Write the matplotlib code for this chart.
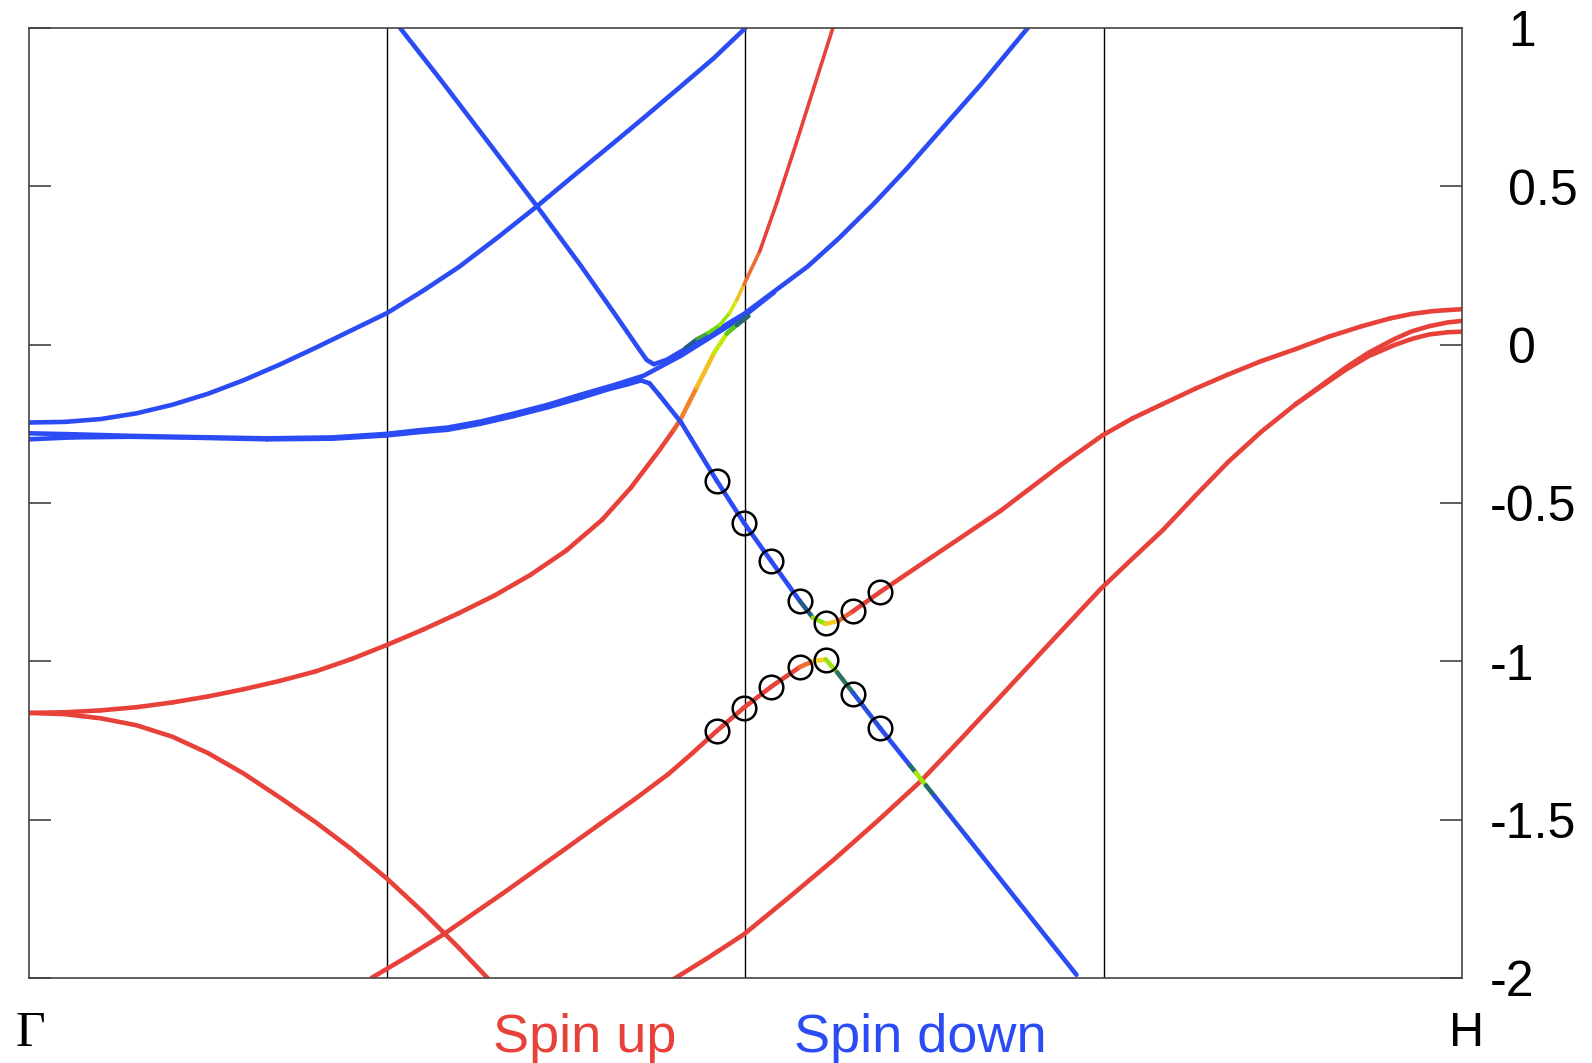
import numpy as np
import matplotlib.pyplot as plt
from matplotlib.collections import LineCollection
from matplotlib.colors import LinearSegmentedColormap

plt.rcParams['font.family'] = ['Liberation Sans', 'DejaVu Sans']

# k along the path (Gamma = 0, H = 1) and energy
# w = spin weight of the band: 0 = spin down (blue), 1 = spin up (red)

# spin down bands
b1_k = [0.0, 0.025, 0.05, 0.075, 0.1, 0.125, 0.15, 0.175, 0.2, 0.225, 0.25, 0.275, 0.3, 0.327,
        0.354, 0.38, 0.408, 0.43, 0.455, 0.478, 0.5]
b1_e = [-0.246, -0.244, -0.235, -0.217, -0.19, -0.155, -0.112, -0.063, -0.01, 0.045, 0.1, 0.17, 0.245,
        0.338, 0.435, 0.533, 0.637, 0.72, 0.816, 0.905, 1.0]

b2_k = [0.259, 0.287, 0.315, 0.3545, 0.385, 0.408, 0.426, 0.431, 0.436, 0.445, 0.462, 0.478, 0.499,
        0.52, 0.5435, 0.565, 0.59, 0.613, 0.6365, 0.665, 0.697]
b2_e = [1.0, 0.838, 0.672, 0.437, 0.25, 0.102, -0.016, -0.048, -0.062, -0.048, -0.003, 0.04, 0.097,
        0.168, 0.247, 0.335, 0.447, 0.558, 0.679, 0.825, 1.0]

f1_k = [0.0, 0.03, 0.07, 0.116, 0.166, 0.212, 0.249, 0.273, 0.292, 0.315, 0.338, 0.362, 0.385, 0.408,
        0.429, 0.455, 0.478, 0.499, 0.52]
f1_e = [-0.28, -0.283, -0.288, -0.292, -0.296, -0.293, -0.282, -0.27, -0.262, -0.243, -0.218, -0.19,
        -0.158, -0.128, -0.098, -0.035, 0.03, 0.09, 0.165]

# mixed bands
f2_k = [0.0, 0.03, 0.07, 0.116, 0.166, 0.212, 0.249, 0.273, 0.292, 0.315, 0.338, 0.362, 0.385, 0.405,
        0.418, 0.427, 0.433, 0.44, 0.455, 0.48, 0.499, 0.518, 0.538, 0.547, 0.556, 0.565, 0.575, 0.594,
        0.631, 0.678, 0.721, 0.749, 0.77, 0.791, 0.814, 0.837, 0.86, 0.884, 0.907, 0.93, 0.95, 0.965,
        0.98, 1.0]
f2_e = [-0.299, -0.293, -0.291, -0.294, -0.299, -0.297, -0.287, -0.276, -0.269, -0.25, -0.226, -0.198,
        -0.168, -0.14, -0.125, -0.113, -0.122, -0.16, -0.245, -0.43, -0.563, -0.684, -0.81, -0.862,
        -0.882, -0.872, -0.842, -0.781, -0.668, -0.525, -0.377, -0.287, -0.233, -0.188, -0.139, -0.094,
        -0.052, -0.014, 0.025, 0.058, 0.083, 0.097, 0.106, 0.112]
f2_w = [0] * 23 + [0.35, 0.62, 0.88] + [1] * 18

low_k = [0.239, 0.264, 0.289, 0.33, 0.371, 0.399, 0.422, 0.446, 0.463, 0.48, 0.499, 0.518, 0.538, 0.547,
         0.556, 0.564, 0.575, 0.594, 0.615, 0.619, 0.622, 0.626, 0.632, 0.655, 0.69, 0.731]
low_e = [-2.0, -1.933, -1.863, -1.735, -1.603, -1.512, -1.438, -1.357, -1.29, -1.22, -1.146, -1.08,
         -1.018, -1.0, -0.994, -1.035, -1.099, -1.211, -1.33, -1.352, -1.37, -1.392, -1.426, -1.557,
         -1.757, -1.99]
low_w = [1] * 13 + [0.85, 0.62, 0.38, 0.1, 0, 0, 0.45, 0.6, 0.4, 0.05, 0, 0, 0]

r1_k = [0.0, 0.025, 0.05, 0.075, 0.1, 0.125, 0.15, 0.175, 0.2, 0.225, 0.25, 0.275, 0.3, 0.325, 0.35,
        0.375, 0.4, 0.42, 0.44, 0.45, 0.4545, 0.466, 0.478, 0.487, 0.494, 0.502]
r1_e = [-1.163, -1.161, -1.155, -1.145, -1.13, -1.111, -1.088, -1.062, -1.032, -0.993, -0.948, -0.9,
        -0.848, -0.792, -0.727, -0.65, -0.553, -0.452, -0.333, -0.269, -0.238, -0.135, -0.027, 0.035,
        0.062, 0.09]
r1_w = [1] * 19 + [0.97, 0.93, 0.85, 0.7, 0.45, 0.3, 0.15]

ur_k = [0.458, 0.466, 0.474, 0.482, 0.489, 0.494, 0.499, 0.51, 0.522, 0.535, 0.548, 0.561]
ur_e = [-0.01, 0.018, 0.037, 0.062, 0.1, 0.142, 0.19, 0.295, 0.45, 0.63, 0.815, 1.0]
ur_w = [0.1, 0.25, 0.38, 0.45, 0.55, 0.7, 0.85, 1, 1, 1, 1, 1]

# spin up bands
r3_k = [0.449, 0.474, 0.499, 0.53, 0.562, 0.592, 0.622, 0.65, 0.678, 0.713, 0.748, 0.77, 0.791, 0.814,
        0.837, 0.86, 0.884]
r3_e = [-2.006, -1.936, -1.862, -1.747, -1.625, -1.505, -1.38, -1.247, -1.111, -0.94, -0.771, -0.676,
        -0.587, -0.477, -0.37, -0.275, -0.188]
r3_end_k = [0.884, 0.9, 0.919, 0.935, 0.953, 0.965, 0.977, 0.99, 1.0]
r3a_end_e = [-0.188, -0.135, -0.072, -0.025, 0.018, 0.042, 0.058, 0.07, 0.075]
r3b_end_e = [-0.188, -0.138, -0.079, -0.036, -0.001, 0.018, 0.032, 0.039, 0.041]

r4_k = [0.0, 0.025, 0.05, 0.075, 0.1, 0.125, 0.15, 0.175, 0.2, 0.225, 0.25, 0.275, 0.3, 0.32]
r4_e = [-1.163, -1.167, -1.18, -1.202, -1.238, -1.29, -1.355, -1.43, -1.508, -1.593, -1.687, -1.792,
        -1.905, -2.0]

# marked states
circ_k = [0.480, 0.499, 0.518, 0.538, 0.556, 0.575, 0.594]
circ_upper = [-0.431, -0.563, -0.684, -0.81, -0.878, -0.842, -0.781]
circ_lower = [-1.220, -1.146, -1.082, -1.018, -0.997, -1.102, -1.211]

dividers = [0.25, 0.5, 0.75]
yticks = [1, 0.5, 0, -0.5, -1, -1.5, -2]
ytick_labels = ['1', '0.5', '0', '-0.5', '-1', '-1.5', '-2']

BLUE = '#2b4cf5'
RED = '#e8413a'
spin_cmap = LinearSegmentedColormap.from_list('spin', [
    (0.0, BLUE), (0.2, '#1e5c7a'), (0.4, '#5fd60a'), (0.55, '#b6ec08'),
    (0.7, '#f4e41c'), (0.85, '#f29a28'), (1.0, RED)])
LW = 3.3


def mixed_band(ax, k, e, w, lw=LW):
    pts = np.column_stack([k, e])
    segs = np.stack([pts[:-1], pts[1:]], axis=1)
    w = np.asarray(w, dtype=float)
    lc = LineCollection(segs, cmap=spin_cmap, norm=plt.Normalize(0, 1), linewidths=lw,
                        capstyle='round', joinstyle='round', zorder=2)
    lc.set_array(0.5 * (w[:-1] + w[1:]))
    ax.add_collection(lc)


fig = plt.figure(figsize=(15.92, 10.63), dpi=100)
ax = fig.add_axes([0.0182, 0.080, 0.9001, 0.8937])

for d in dividers:
    ax.axvline(d, color='black', lw=1.0, zorder=1)

for k, e in [(b1_k, b1_e), (b2_k, b2_e), (f1_k, f1_e)]:
    ax.plot(k, e, color=BLUE, lw=LW, solid_capstyle='round', solid_joinstyle='round', zorder=2)
for k, e in [(r3_k, r3_e), (r3_end_k, r3a_end_e), (r3_end_k, r3b_end_e), (r4_k, r4_e)]:
    ax.plot(k, e, color=RED, lw=LW, solid_capstyle='round', solid_joinstyle='round', zorder=2)

mixed_band(ax, r1_k, r1_e, r1_w)
mixed_band(ax, ur_k, ur_e, ur_w, lw=2.6)
mixed_band(ax, f2_k, f2_e, f2_w)
mixed_band(ax, low_k, low_e, low_w)

ax.plot(circ_k, circ_upper, 'o', ms=17, mfc='none', mec='black', mew=1.8, zorder=3)
ax.plot(circ_k, circ_lower, 'o', ms=17, mfc='none', mec='black', mew=1.8, zorder=3)

ax.set_xlim(0, 1)
ax.set_ylim(-2, 1)
ax.set_xticks([])
ax.set_yticks(yticks)
ax.tick_params(axis='y', direction='in', length=16, width=1.1, left=True, right=True,
               labelleft=False, labelright=False, color='#333333')
for s in ax.spines.values():
    s.set_color('#444444')
    s.set_linewidth(1.2)

# right-hand labels, digits aligned, minus hanging to the left
for v, lab in zip(yticks, ytick_labels):
    x0 = 1.0195 if lab.startswith('-') else 1.0321
    ax.text(x0, v - 0.058, lab, transform=ax.get_yaxis_transform(), ha='left', va='baseline',
            fontsize=36, color='black', clip_on=False)

fig.text(0.019, 0.016, 'Γ', family=['Liberation Serif', 'DejaVu Serif'], fontsize=37,
         ha='center', va='baseline')
fig.text(0.9215, 0.016, 'H', fontsize=35, ha='center', va='baseline')
fig.text(0.367, 0.0103, 'Spin up', color=RED, fontsize=39, ha='center', va='baseline')
fig.text(0.578, 0.0103, 'Spin down', color=BLUE, fontsize=39, ha='center', va='baseline')

fig.savefig('out.png', dpi=100)
